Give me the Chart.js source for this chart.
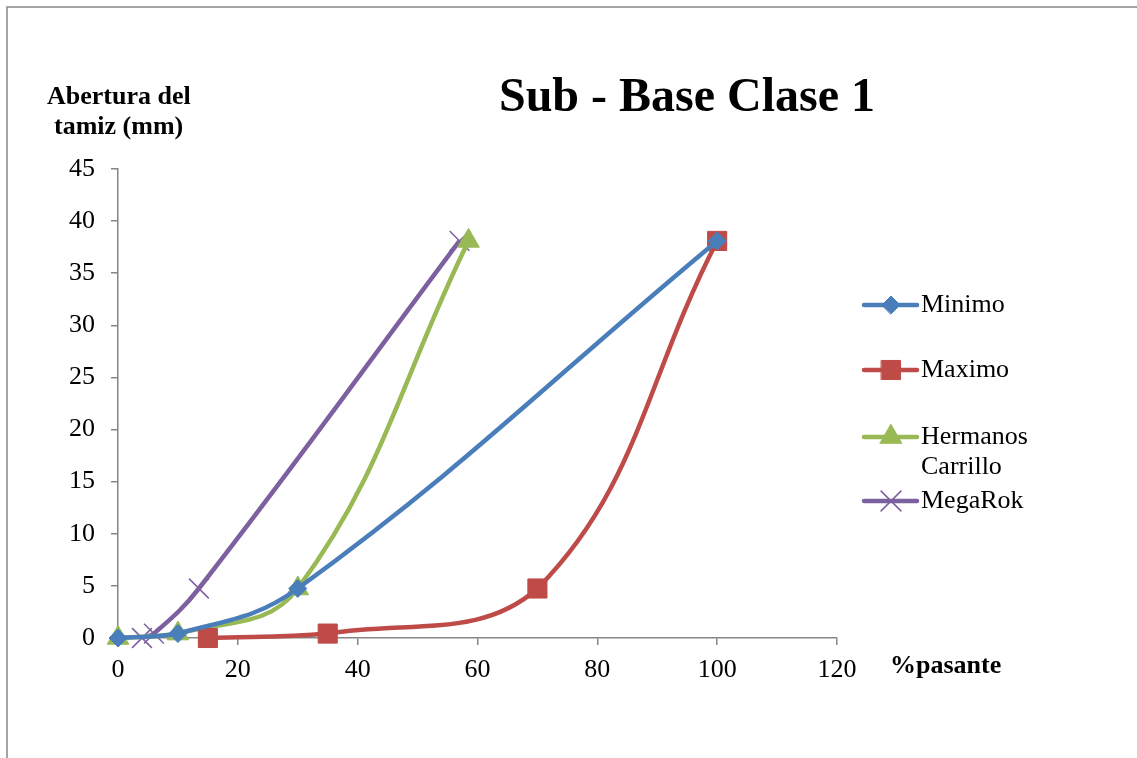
<!DOCTYPE html>
<html>
<head>
<meta charset="utf-8">
<script src="https://cdn.jsdelivr.net/npm/chart.js@4"></script>
<style>
  html, body { margin: 0; padding: 0; background: #fff; }
  #wrap { width: 1137px; height: 758px; position: relative; }
</style>
</head>
<body>
<div id="wrap"><canvas id="chart" width="1137" height="758"></canvas></div>
<script>
// datos
const seriesNames = ["Minimo", "Maximo", "Hermanos Carrillo", "MegaRok"];
const minimoX = [0, 10, 30, 100];
const minimoY = [0, 0.425, 4.75, 38.1];
const maximoX = [15, 35, 70, 100];
const maximoY = [0, 0.425, 4.75, 38.1];
const carrilloX = [0, 10, 30, 58.5];
const carrilloY = [0, 0.425, 4.75, 38.1];
const megaRokX = [4, 6, 13.5, 57];
const megaRokY = [0, 0.425, 4.75, 38.1];
const xTicks = [0, 20, 40, 60, 80, 100, 120];
const yTicks = [0, 5, 10, 15, 20, 25, 30, 35, 40, 45];

const pts = (xs, ys) => xs.map((x, i) => ({ x: x, y: ys[i] }));

const serif = "'Liberation Serif', 'DejaVu Serif', serif";
const axisGray = "#868686";

// borde, titulos y leyenda dibujados a mano
const decorations = {
  id: "decorations",
  afterDraw(chart) {
    const ctx = chart.ctx;
    ctx.save();
    ctx.strokeStyle = axisGray;
    ctx.lineWidth = 1.5;
    ctx.beginPath();
    ctx.moveTo(7, 758);
    ctx.lineTo(7, 7);
    ctx.lineTo(1137, 7);
    ctx.stroke();

    ctx.fillStyle = "#000";
    ctx.textBaseline = "middle";
    ctx.textAlign = "center";
    ctx.font = "bold 48px " + serif;
    ctx.fillText("Sub - Base Clase 1", 687, 99);

    ctx.textAlign = "left";
    ctx.font = "bold 26px " + serif;
    ctx.fillText("Abertura del", 47, 97);
    ctx.fillText("tamiz (mm)", 54, 127);
    ctx.fillText("%pasante", 890, 666);

    // leyenda
    const rows = [[305], [370], [437, 467], [501]];
    const labels = [["Minimo"], ["Maximo"], ["Hermanos", "Carrillo"], ["MegaRok"]];
    ctx.font = "26px " + serif;
    chart.data.datasets.forEach((ds, i) => {
      const y = rows[i][0];
      ctx.strokeStyle = ds.borderColor;
      ctx.lineWidth = 4.5;
      ctx.lineCap = "round";
      ctx.beginPath();
      ctx.moveTo(864, y);
      ctx.lineTo(917, y);
      ctx.stroke();
      const el = chart.getDatasetMeta(i).data[0];
      if (el) {
        const opts = el.options;
        ctx.fillStyle = ds.backgroundColor;
        ctx.strokeStyle = ds.borderColor;
        ctx.lineWidth = opts.borderWidth;
        Chart.helpers.drawPoint(ctx, {
          pointStyle: opts.pointStyle,
          radius: opts.radius,
          rotation: 0,
          borderWidth: opts.borderWidth
        }, 891, y);
      }
      ctx.fillStyle = "#000";
      labels[i].forEach((t, j) => ctx.fillText(t, 921, rows[i][j]));
    });
    ctx.restore();
  }
};

function makeSet(label, xs, ys, color, style, radius) {
  return {
    label: label,
    data: pts(xs, ys),
    borderColor: color,
    backgroundColor: color,
    borderWidth: 4.5,
    tension: 0.4,
    pointStyle: style,
    pointRadius: radius,
    pointHoverRadius: radius,
    pointBorderWidth: style === "crossRot" ? 1.5 : 1,
    pointBorderColor: color,
    pointBackgroundColor: color,
    clip: false,
  };
}

new Chart(document.getElementById("chart"), {
  type: "line",
  data: {
    datasets: [
      makeSet(seriesNames[0], minimoX, minimoY, "#4A7EBB", "rectRot", 9),
      makeSet(seriesNames[1], maximoX, maximoY, "#BE4B48", "rect", 13.5),
      makeSet(seriesNames[2], carrilloX, carrilloY, "#98B954", "triangle", 12.5),
      makeSet(seriesNames[3], megaRokX, megaRokY, "#7D60A0", "crossRot", 14),
    ],
  },
  options: {
    responsive: false,
    animation: false,
    events: [],
    layout: { padding: { left: 58, right: 300, top: 169, bottom: 70 } },
    scales: {
      x: {
        type: "linear",
        min: 0,
        max: 120,
        afterBuildTicks: (s) => { s.ticks = xTicks.map((v) => ({ value: v })); },
        afterFit: (s) => { s.height = 50; },
        border: { color: axisGray, width: 1.5 },
        grid: { drawOnChartArea: false, drawTicks: true, tickLength: 7, color: axisGray, lineWidth: 1.5 },
        ticks: { color: "#000", font: { family: serif, size: 26 }, padding: 10, maxRotation: 0 },
      },
      y: {
        min: 0,
        max: 45,
        afterBuildTicks: (s) => { s.ticks = yTicks.map((v) => ({ value: v })); },
        afterFit: (s) => { s.width = 60; },
        border: { color: axisGray, width: 1.5 },
        grid: { drawOnChartArea: false, drawTicks: true, tickLength: 7, color: axisGray, lineWidth: 1.5 },
        ticks: { color: "#000", font: { family: serif, size: 26 }, padding: 16 },
      },
    },
    plugins: {
      legend: { display: false },
      tooltip: { enabled: false },
    },
  },
  plugins: [decorations],
});
</script>
</body>
</html>
